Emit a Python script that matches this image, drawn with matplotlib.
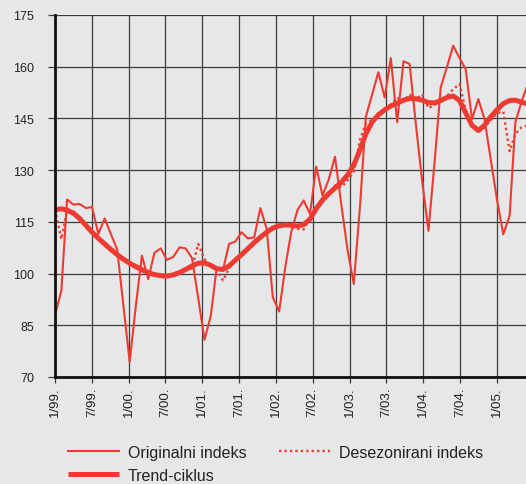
import numpy as np
import pandas as pd
import matplotlib
matplotlib.use("Agg")
import matplotlib.pyplot as plt

# Monthly index values from 1/99 onwards.
start = pd.Timestamp("1999-01-01")

original = [88, 95, 121.5, 120, 120.2, 119, 119.3, 111.5, 116, 111.5, 107, 91,
            74.4, 91, 105.2, 98.4, 106, 107.3, 104, 104.8, 107.6, 107.3, 104.5, 93,
            80.8, 87.8, 101.5, 101, 108.6, 109.3, 112, 110.2, 110.5, 119, 113, 93.1,
            89, 102.3, 112, 118.5, 121.2, 117.3, 131, 122.6, 127.4, 133.9, 120, 107,
            97, 120, 145.5, 152, 158.4, 151.1, 162.5, 143.9, 161.6, 160.8, 143, 127,
            112.4, 133, 154, 160, 166.1, 162.5, 159.3, 144.8, 150.6, 144.8, 133, 121.5,
            111.4, 116.8, 143.9, 150, 155]

deseasonalised = [118.5, 110, 118.5, 118, 116.5, 113.5, 112.5, 110.8, 108, 107.5, 105, 103.8,
                  103, 101.5, 101.5, 99.8, 100, 99.2, 99, 100, 100.5, 101, 101.5, 108.6,
                  104.2, 102, 101.3, 98, 101.5, 104, 105.3, 107.5, 109.3, 111, 111.8, 113.5,
                  113.5, 114.5, 113.5, 113, 112.8, 116.5, 119, 122, 123.5, 125.5, 125, 127,
                  129.5, 139, 143.5, 144.5, 146.5, 147, 149, 151, 150, 152, 150.5, 152,
                  148, 149, 150, 151.5, 153.5, 155, 147.5, 142.5, 141, 142.5, 144.5, 146.5,
                  147, 135.5, 140.5, 142.5, 143]

trend = [118.5, 118.8, 118.4, 117.5, 116, 114, 112, 110.2, 108.6, 107, 105.5, 104.2,
         103, 102, 101.1, 100.3, 99.7, 99.4, 99.3, 99.6, 100.3, 101.2, 102.2, 103,
         103.1, 102.4, 101.4, 101.2, 102.2, 103.9, 105.5, 107.2, 109, 110.5, 112, 113.2,
         113.9, 114.1, 114, 113.8, 114.2, 115.8, 118.8, 121.3, 123.2, 124.8, 126.5, 128.5,
         131.5, 136, 140.5, 144, 146, 147.5, 148.6, 149.4, 150.3, 150.8, 150.7, 150.3,
         149.6, 149.5, 150.2, 151.1, 151.5, 150.2, 146.6, 143, 141.5, 143, 145.5, 147.5,
         149.3, 150.2, 150.3, 149.7, 149.2]

tick_labels = ["1/99.", "7/99.", "1/00.", "7/00.", "1/01.", "7/01.", "1/02.",
               "7/02.", "1/03.", "7/03.", "1/04.", "7/04.", "1/05."]

# Positions in days since the start (grid lines every 180 days, as in the original).
months = pd.date_range(start, periods=len(original), freq="MS")
days = (months - start).days.values
tick_days = np.arange(len(tick_labels)) * 180

plt.rcParams["font.family"] = ["Liberation Sans", "DejaVu Sans"]

red = "#ee3b31"
bg = "#e6e7e8"

fig = plt.figure(figsize=(5.26, 4.85), dpi=100, facecolor=bg)
ax = fig.add_axes([55/526, 1 - 378/485, 1 - 55/526, (378 - 16)/485], facecolor=bg)

line_orig, = ax.plot(days, original, color=red, lw=1.5, zorder=3)
line_des,  = ax.plot(days, deseasonalised, color=red, lw=1.7, ls=(0, (1, 1.3)), zorder=3)
line_trend, = ax.plot(days, trend, color=red, lw=3.6, solid_capstyle="butt", zorder=4)

# Axes styling.
ax.set_xlim(0, 2303)
ax.set_ylim(70, 175)
ax.set_yticks(np.arange(70, 176, 15))
ax.set_xticks(tick_days)
ax.set_xticklabels(tick_labels, rotation=90)
ax.grid(True, color="#3c3c3c", lw=0.9, zorder=1)
ax.set_axisbelow(True)
for side in ["top", "right"]:
  ax.spines[side].set_visible(False)
for side in ["left", "bottom"]:
  ax.spines[side].set_linewidth(2)
  ax.spines[side].set_color("#111111")
  ax.spines[side].set_zorder(5)
ax.tick_params(axis="y", length=5, width=0.9, color="#3c3c3c", pad=10, labelsize=9, labelcolor="#222222")
ax.tick_params(axis="x", length=4, width=0.9, color="#3c3c3c", pad=3, labelsize=9.5, labelcolor="#222222")

# Legend below the chart.
fig.legend([line_orig, line_trend, line_des],
           ["Originalni indeks", "Trend-ciklus", "Desezonirani indeks"],
           ncol=2, loc="upper left", bbox_to_anchor=(68/526, 1 - 446/485),
           frameon=False, fontsize=11.5, handlelength=3.2, handletextpad=0.55,
           columnspacing=2.05, labelspacing=0.5, borderpad=0, borderaxespad=0,
           labelcolor="#222222")

fig.savefig("out.png", dpi=100, facecolor=bg)
